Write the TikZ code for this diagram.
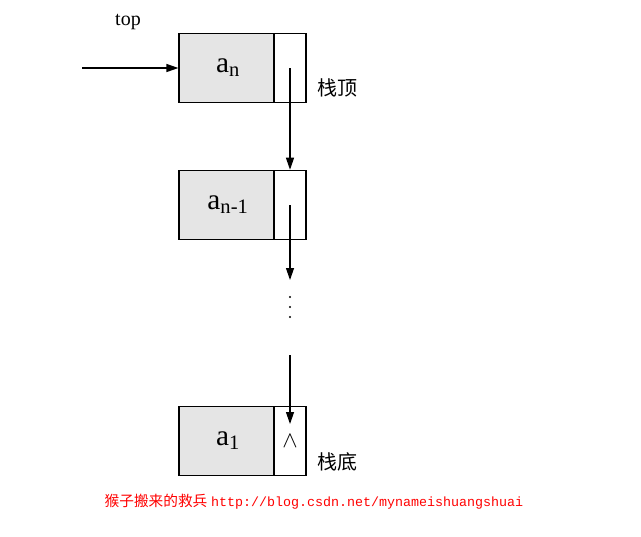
\documentclass[tikz,border=0pt]{standalone}
\usepackage{fontspec}
\setmainfont{Liberation Serif}
\newfontfamily\cjk{Noto Sans CJK SC}
\newfontfamily\mono{Liberation Mono}
\usetikzlibrary{arrows.meta}
\begin{document}
\begin{tikzpicture}[x=0.75pt,y=-0.75pt,
  datab/.style={draw,line width=0.9pt,fill=black!10,minimum width=73.5pt,minimum height=52pt,inner sep=0pt,font=\fontsize{22}{24}\selectfont},
  ptrb/.style={draw,line width=0.9pt,fill=white,minimum width=24pt,minimum height=52pt,inner sep=0pt},
  arr/.style={line width=0.9pt,-{Triangle[length=9pt,width=6pt]}},
  lbl/.style={font=\cjk\fontsize{15}{17}\selectfont}]
\useasboundingbox (0,0) rectangle (641,536);
\node[datab] (d1) at (228,68) {a\textsubscript{n}};
\node[ptrb] (p1) at (290,68) {};
\node[datab] (d2) at (228,205) {a\textsubscript{n-1}};
\node[ptrb] (p2) at (290,205) {};
\node[datab] (d3) at (228,441) {a\textsubscript{1}};
\node[ptrb] (p3) at (290,441) {\fontsize{16}{16}\selectfont$\wedge$};
\node[font=\fontsize{15}{17}\selectfont] (top) at (128,22) {top};
\coordinate (s) at (82,68);
\draw[arr] (s) -- (d1.west);
\draw[arr] (p1.center) -- (p2.north);
\coordinate (e2) at (290,280);
\draw[arr] (p2.center) -- (e2);
\foreach \yy in {297,307,317} \fill (290,\yy) circle (0.9pt);
\coordinate (s3) at (290,355);
\coordinate (e3) at (290,424);
\draw[arr] (s3) -- (e3);
\node[lbl,anchor=west] (l1) at (313,88) {栈顶};
\node[lbl,anchor=west] (l2) at (313,462) {栈底};
\node[anchor=west,text=red,font=\fontsize{11}{13}\selectfont] (w) at (100,502) {{\cjk 猴子搬来的救兵} {\mono\fontsize{10}{12}\selectfont http://blog.csdn.net/mynameishuangshuai}};
\end{tikzpicture}
\end{document}
